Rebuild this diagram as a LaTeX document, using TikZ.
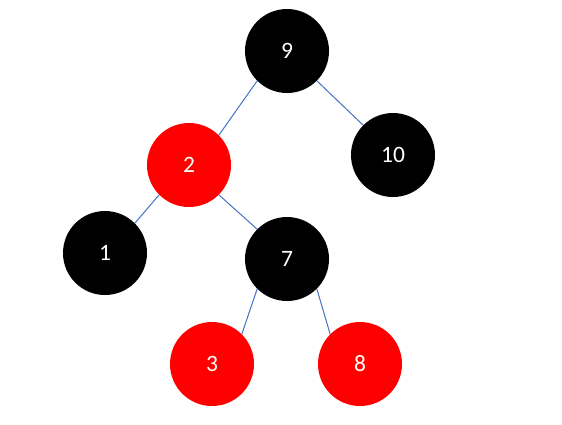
\documentclass[tikz,border=0pt]{standalone}
\usepackage{fontspec}
\setmainfont{Carlito}
\definecolor{edgeblue}{HTML}{4472C4}
\definecolor{nodered}{HTML}{FF0000}
\tikzset{
  rbnode/.style={circle, minimum size=84pt, inner sep=0pt, text=white,
    font=\fontsize{23.5}{26}\selectfont},
  blk/.style={rbnode, fill=black},
  rd/.style={rbnode, fill=nodered},
  edge/.style={draw=edgeblue, line width=1pt}
}
\begin{document}
\begin{tikzpicture}[x=1pt,y=-1pt]
\useasboundingbox (0,0) rectangle (562,424);
\node[blk] (n9) at (287,51) {9};
\node[rd] (n2) at (189,165) {2};
\node[blk] (n10) at (393,155) {10};
\node[blk] (n1) at (105,253) {1};
\node[blk] (n7) at (287,259) {7};
\node[rd] (n3) at (212,364) {3};
\node[rd] (n8) at (360,364) {8};
\draw[edge] (n9.south west) -- (n2.north east);
\draw[edge] (n9.south east) -- (n10.north west);
\draw[edge] (n2.south west) -- (n1.north east);
\draw[edge] (n2.south east) -- (n7.north west);
\draw[edge] (n7.south west) -- (n3.north east);
\draw[edge] (n7.south east) -- (n8.north west);
\end{tikzpicture}
\end{document}
